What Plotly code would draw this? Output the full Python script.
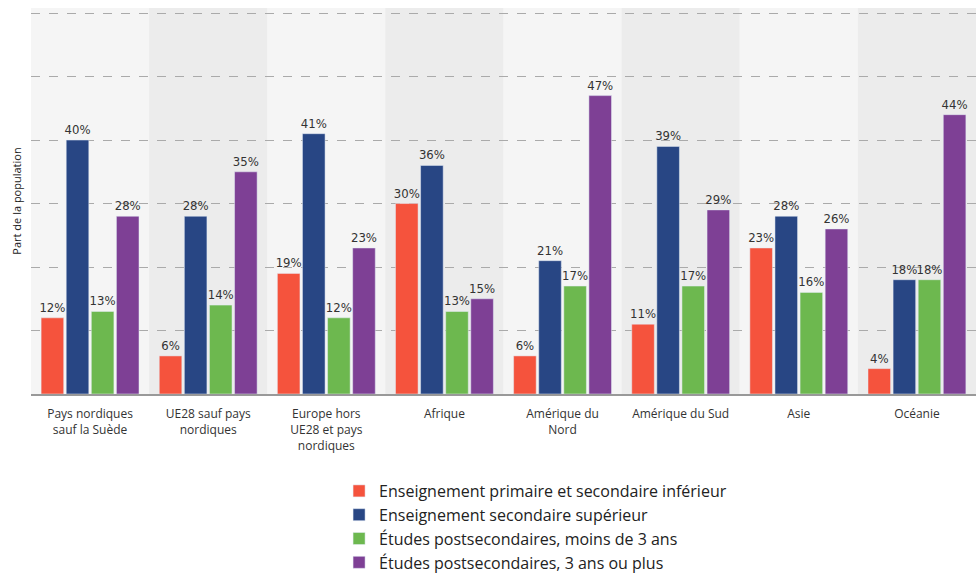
import plotly.graph_objects as go

categories = ["Pays nordiques<br>sauf la Suède", "UE28 sauf pays<br>nordiques",
              "Europe hors<br>UE28 et pays<br>nordiques", "Afrique", "Amérique du<br>Nord",
              "Amérique du Sud", "Asie", "Océanie"]
series_names = ["Enseignement primaire et secondaire inférieur",
                "Enseignement secondaire supérieur",
                "Études postsecondaires, moins de 3 ans",
                "Études postsecondaires, 3 ans ou plus"]
primaire = [12, 6, 19, 30, 6, 11, 23, 4]
secondaire = [40, 28, 41, 36, 21, 39, 28, 18]
post_court = [13, 14, 12, 13, 17, 17, 16, 18]
post_long = [28, 35, 23, 15, 47, 29, 26, 44]
colors = ["#F5533D", "#284684", "#6DB84F", "#7E4095"]

fig = go.Figure()
for name, vals, col in zip(series_names, [primaire, secondaire, post_court, post_long], colors):
    fig.add_trace(go.Bar(
        x=list(range(len(categories))), y=vals, name=name, marker_color=col,
        text=[f"{v}%" for v in vals], textposition="outside", constraintext="none",
        textfont=dict(family="DejaVu Sans Condensed, Liberation Sans Narrow, sans-serif", size=13, color="#333333"),
        cliponaxis=False,
    ))

shapes = []
for i in range(len(categories)):
    shapes.append(dict(type="rect", xref="x", yref="paper", x0=i - 0.5, x1=i + 0.5, y0=0, y1=1,
                       fillcolor="#F5F5F5" if i % 2 == 0 else "#ECECEC", line_width=0, layer="below"))

fig.update_layout(
    width=976, height=580,
    margin=dict(l=31, r=0, t=8, b=186),
    paper_bgcolor="white", plot_bgcolor="#F5F5F5",
    barmode="group", bargap=0.15, bargroupgap=0.1,
    shapes=shapes,
    font=dict(family="Open Sans, sans-serif", color="#333333"),
    xaxis=dict(tickmode="array", tickvals=list(range(len(categories))), ticktext=categories,
               range=[-0.5, len(categories) - 0.5], showgrid=False, zeroline=False,
               showline=True, linecolor="#999999", linewidth=2, automargin=False,
               tickfont=dict(size=12, color="#333333"), ticks="", ticklabelstandoff=8),
    yaxis=dict(range=[0, 60.8], dtick=10, showticklabels=False, showgrid=True,
               gridcolor="#AAAAAA", griddash="dash", gridwidth=1, zeroline=False, automargin=False,
               title=dict(text="Part de la population", font=dict(size=11, color="#222222"), standoff=6)),
    legend=dict(x=0.326, xanchor="left", y=0, yref="container", yanchor="bottom", orientation="v",
                font=dict(size=16, color="#222222"), traceorder="normal",
                itemwidth=30, tracegroupgap=0),
    showlegend=True,
)

fig.write_html("out.html", config={"displayModeBar": False})
with open("out.html", encoding="utf-8") as f:
    html = f.read()
html = html.replace("<head>", "<head><style>html,body{margin:0;padding:0;}</style>", 1)
with open("out.html", "w", encoding="utf-8") as f:
    f.write(html)
